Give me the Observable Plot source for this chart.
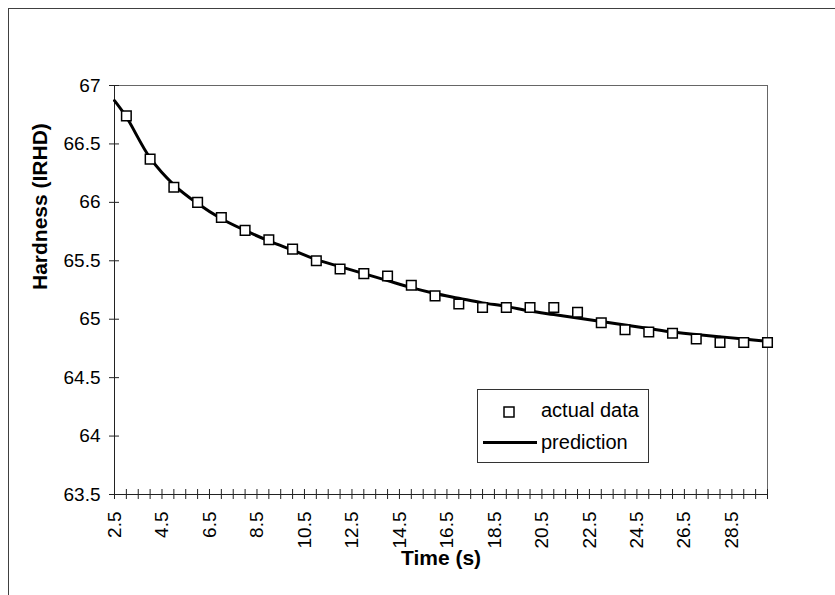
<!DOCTYPE html>
<html>
<head>
<meta charset="utf-8">
<script src="https://cdn.jsdelivr.net/npm/d3@7"></script>
<script src="https://cdn.jsdelivr.net/npm/@observablehq/plot@0.6"></script>
<style>
  html, body { margin: 0; padding: 0; background: #fff; overflow: hidden; }
  #wrap { position: relative; width: 835px; height: 595px; font-family: Arial, "Liberation Sans", sans-serif; }
  #border { position: absolute; left: 8px; top: 8px; width: 900px; height: 700px; border: 1px solid #404040; box-sizing: border-box; }
  #chart { position: absolute; left: 0; top: 0; }
  #legend { position: absolute; left: 477px; top: 389px; width: 172px; height: 74px; border: 1px solid #333; box-sizing: border-box; background: #fff; font-size: 20px; color: #000; }
  #legend .item { position: absolute; left: 0; white-space: nowrap; }
</style>
</head>
<body>
<div id="wrap">
  <div id="border"></div>
  <div id="chart"></div>
  <div id="legend">
    <svg width="172" height="74" style="position:absolute;left:0;top:0">
      <rect x="26" y="17" width="10" height="10" fill="#fff" stroke="#000" stroke-width="1.5"></rect>
      <line x1="5" y1="52.5" x2="59" y2="52.5" stroke="#000" stroke-width="3"></line>
    </svg>
    <div class="item" style="left:63px; top:9px;">actual data</div>
    <div class="item" style="left:63px; top:41px;">prediction</div>
  </div>
</div>
<script>
// Measured data (time in s, hardness in IRHD)
const timeActual = [3,4,5,6,7,8,9,10,11,12,13,14,15,16,17,18,19,20,21,22,23,24,25,26,27,28,29,30];
const hardActual = [66.74,66.37,66.13,66.00,65.87,65.76,65.68,65.60,65.50,65.43,65.39,65.37,65.29,65.20,65.13,65.10,65.10,65.10,65.10,65.06,64.97,64.91,64.89,64.88,64.83,64.80,64.80,64.80];

// Model prediction
const timePred = [2.5,3,4,5,6,7,8,9,10,11,12,13,14,15,16,17,18,19,20,21,22,23,24,25,26,27,28,29,30];
const hardPred = [66.87,66.73,66.38,66.15,65.99,65.86,65.76,65.67,65.59,65.51,65.45,65.39,65.33,65.27,65.22,65.18,65.14,65.11,65.07,65.04,65.01,64.98,64.95,64.92,64.89,64.87,64.85,64.83,64.81];

// Axis ticks
const yTicks = [63.5,64,64.5,65,65.5,66,66.5,67];
const xTickMarks = d3.range(2.5, 30.01, 0.5);
const xTickLabels = [2.5,4.5,6.5,8.5,10.5,12.5,14.5,16.5,18.5,20.5,22.5,24.5,26.5,28.5];

const actual = timeActual.map((t, i) => ({t, h: hardActual[i]}));
const pred = timePred.map((t, i) => ({t, h: hardPred[i]}));

const font = 'Arial, "Liberation Sans", sans-serif';

const chart = Plot.plot({
  width: 835,
  height: 595,
  marginLeft: 114,
  marginRight: 68,
  marginTop: 85,
  marginBottom: 101,
  style: {fontFamily: font, fontSize: "19px", color: "#000", background: "transparent"},
  x: {domain: [2.5, 30]},
  y: {domain: [63.5, 67]},
  marks: [
    Plot.frame({stroke: "#666"}),
    Plot.ruleX([2.5], {stroke: "#222"}),
    Plot.ruleY([63.5], {stroke: "#222"}),
    Plot.ruleY(yTicks, {y: d => d, x1: 2.5, x2: 2.5, insetLeft: -5, insetRight: -5, stroke: "#222"}),
    Plot.ruleX(xTickMarks, {x: d => d, y1: 63.5, y2: 63.5, insetTop: -5, insetBottom: -5, stroke: "#222"}),
    Plot.axisY({ticks: yTicks, tickSize: 0, tickPadding: 14, tickFormat: d => String(d), label: null, fontSize: 19}),
    Plot.axisX({ticks: xTickLabels, tickSize: 0, tickPadding: 17, tickRotate: -90, tickFormat: d => String(d), label: null, fontSize: 19}),
    Plot.line(pred, {x: "t", y: "h", stroke: "#000", strokeWidth: 3, curve: "catmull-rom"}),
    Plot.dot(actual, {x: "t", y: "h", symbol: "square", r: 5.4, fill: "#fff", stroke: "#000", strokeWidth: 1.5}),
    Plot.text(["Hardness (IRHD)"], {frameAnchor: "left", dx: -74, rotate: -90, text: d => d, fontWeight: "bold", fontSize: 21}),
    Plot.text(["Time (s)"], {frameAnchor: "bottom", dy: 70, text: d => d, fontWeight: "bold", fontSize: 21})
  ]
});
document.getElementById("chart").appendChild(chart);
</script>
</body>
</html>
